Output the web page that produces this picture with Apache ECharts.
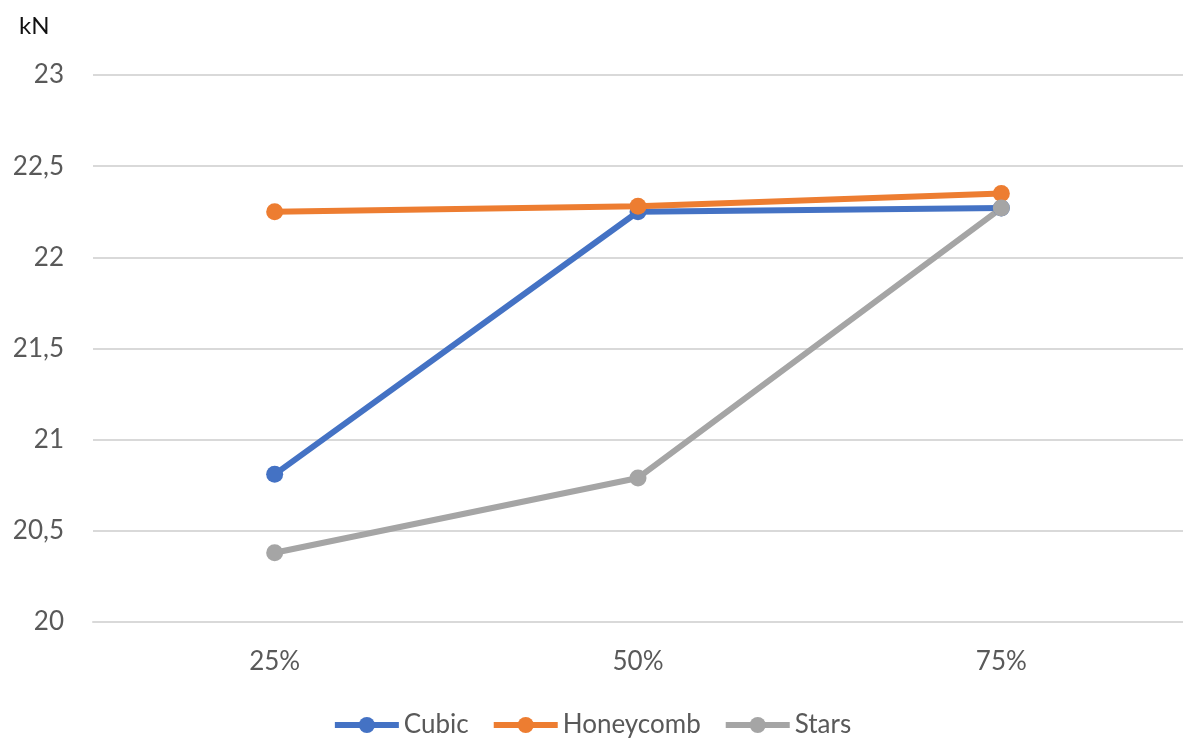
<!DOCTYPE html>
<html>
<head>
<meta charset="utf-8">
<script src="https://cdn.jsdelivr.net/npm/echarts@6/dist/echarts.min.js"></script>
<style>
  html, body { margin: 0; padding: 0; background: #fff; }
  #chart { width: 1183px; height: 744px; }
</style>
</head>
<body>
<div id="chart"></div>
<script>
// Infill density levels and measured force (kN) for each infill pattern
const categories = ['25%', '50%', '75%'];
const cubic = [20.81, 22.25, 22.27];
const honeycomb = [22.25, 22.28, 22.35];
const stars = [20.38, 20.79, 22.27];
const unitLabel = 'kN';

const FONT = 'Lato, "Open Sans", sans-serif';
const chart = echarts.init(document.getElementById('chart'));

function lineSeries(name, data, color) {
  return {
    name: name,
    type: 'line',
    data: data,
    symbol: 'circle',
    symbolSize: 17,
    lineStyle: { width: 6, color: color },
    itemStyle: { color: color },
    emphasis: { disabled: true }
  };
}

chart.setOption({
  animation: false,
  textStyle: { fontFamily: FONT },
  title: {
    text: unitLabel,
    left: 14,
    top: 9,
    textStyle: { fontFamily: FONT, fontSize: 24, fontWeight: 'normal', color: '#111' }
  },
  grid: { left: 93, right: -5, top: 75, bottom: 122 },
  legend: {
    bottom: 1,
    left: 'center',
    itemWidth: 64,
    itemHeight: 20,
    itemGap: 22,
    lineStyle: { width: 6 },
    textStyle: { fontFamily: FONT, fontSize: 26, color: '#595959' },
    data: ['Cubic', 'Honeycomb', 'Stars']
  },
  xAxis: {
    type: 'category',
    data: categories,
    boundaryGap: true,
    axisLine: { show: true, lineStyle: { color: '#d9d9d9', width: 2 } },
    axisTick: { show: false },
    axisLabel: { fontFamily: FONT, fontSize: 26, color: '#595959', margin: 27 }
  },
  yAxis: {
    type: 'value',
    min: 20,
    max: 23,
    interval: 0.5,
    axisLine: { show: false },
    axisTick: { show: false },
    splitLine: { lineStyle: { color: '#d9d9d9', width: 2 } },
    axisLabel: {
      fontFamily: FONT,
      fontSize: 26,
      color: '#595959',
      margin: 29,
      formatter: v => String(v).replace('.', ',')
    }
  },
  series: [
    lineSeries('Cubic', cubic, '#4472C4'),
    lineSeries('Honeycomb', honeycomb, '#ED7D31'),
    lineSeries('Stars', stars, '#A5A5A5')
  ]
});
</script>
</body>
</html>
